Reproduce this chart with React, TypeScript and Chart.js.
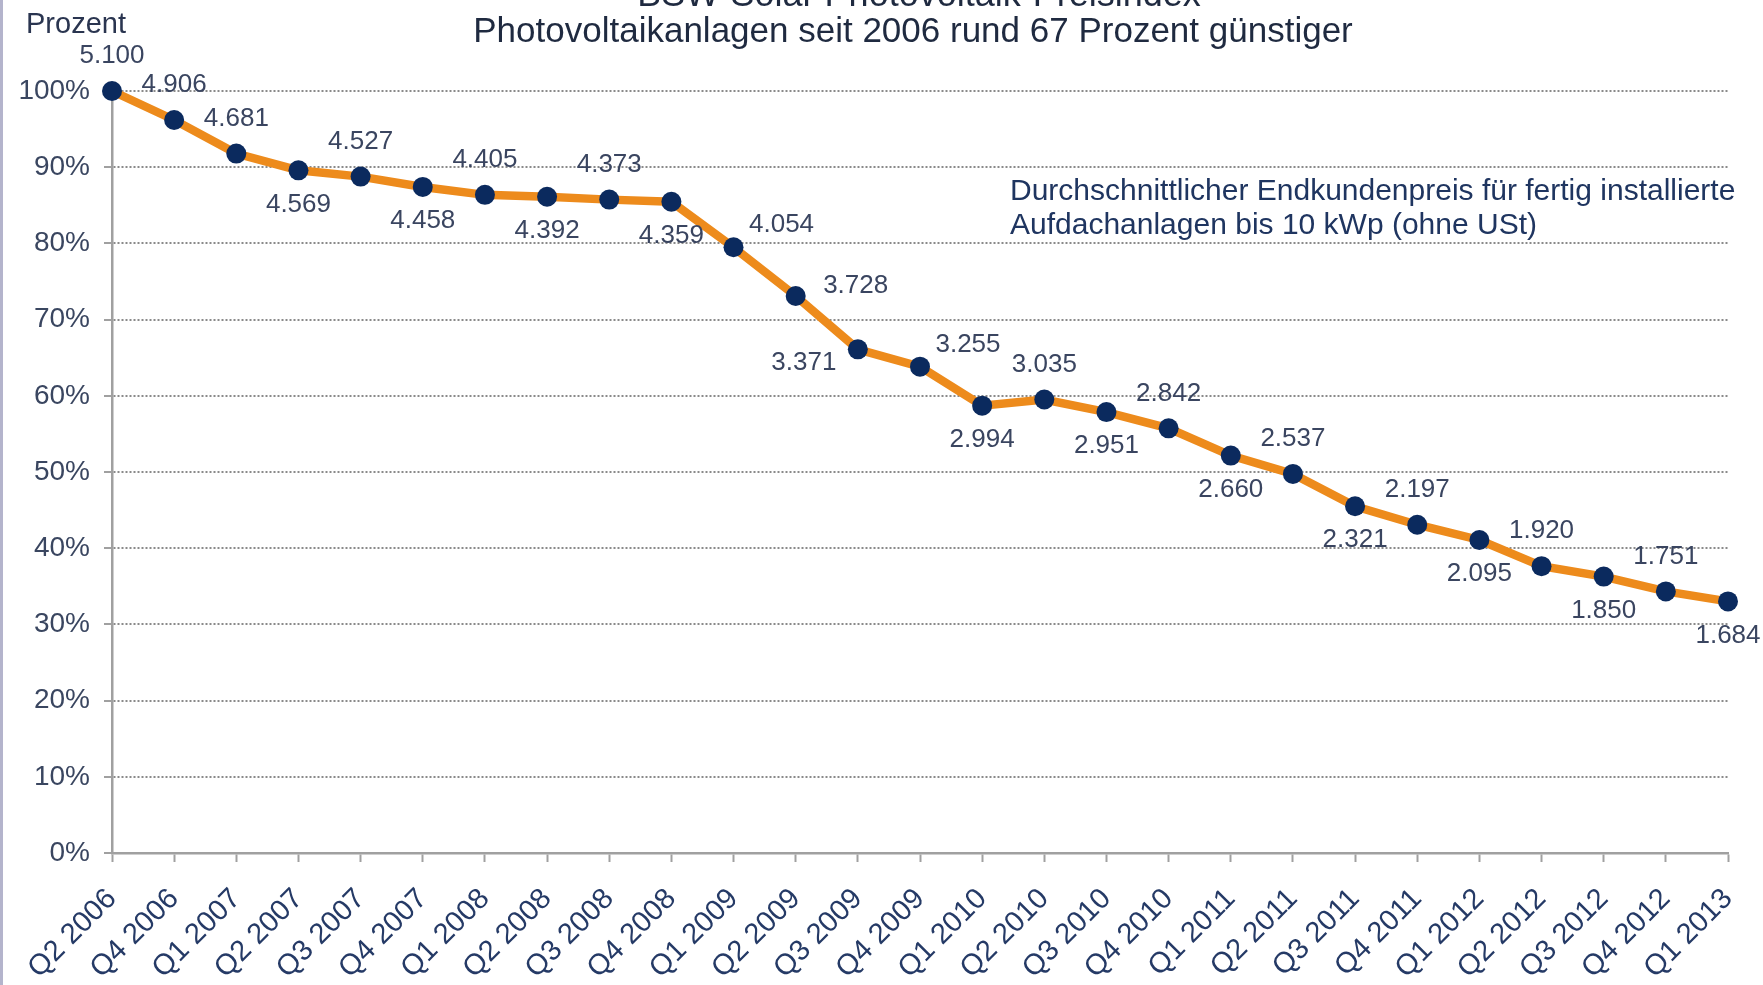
import React, { useEffect, useRef } from "react";
import { Chart, registerables } from "chart.js";

Chart.register(...registerables);

const categories = [
  "Q2 2006", "Q4 2006", "Q1 2007", "Q2 2007", "Q3 2007", "Q4 2007",
  "Q1 2008", "Q2 2008", "Q3 2008", "Q4 2008", "Q1 2009", "Q2 2009",
  "Q3 2009", "Q4 2009", "Q1 2010", "Q2 2010", "Q3 2010", "Q4 2010",
  "Q1 2011", "Q2 2011", "Q3 2011", "Q4 2011", "Q1 2012", "Q2 2012",
  "Q3 2012", "Q4 2012", "Q1 2013",
];

// Euro per kWp (as printed on the chart)
const prices = [
  5100, 4906, 4681, 4569, 4527, 4458, 4405, 4392, 4373, 4359, 4054, 3728,
  3371, 3255, 2994, 3035, 2951, 2842, 2660, 2537, 2321, 2197, 2095, 1920,
  1850, 1751, 1684,
];

const basePrice = 5100;

// where each value label sits relative to its point
const labelPlacement = [
  "above", "above", "above", "below", "above", "below", "above", "below",
  "above", "below", "right", "rightMid", "left", "right", "below", "above",
  "below", "above", "below", "above", "below", "above", "below", "above",
  "below", "above", "below",
];

const yTicks = [0, 10, 20, 30, 40, 50, 60, 70, 80, 90, 100];

const titleCut = "BSW-Solar Photovoltaik-Preisindex";
const subtitle = "Photovoltaikanlagen seit 2006 rund 67 Prozent günstiger";
const yUnit = "Prozent";
const noteLines = [
  "Durchschnittlicher Endkundenpreis für fertig installierte",
  "Aufdachanlagen bis 10 kWp (ohne USt)",
];

const FONT = "'Liberation Sans', Arial, sans-serif";

const offsets: Record<string, [number, number]> = {
  above: [0, -35],
  below: [0, 34],
  right: [48, -22],
  rightMid: [60, -10],
  left: [-54, 13],
};

const formatPrice = (v: number) => {
  const s = String(v);
  return s.slice(0, s.length - 3) + "." + s.slice(s.length - 3);
};

const textPlugin = {
  id: "textPlugin",
  afterDatasetsDraw(chart: any) {
    const ctx = chart.ctx;
    const meta = chart.getDatasetMeta(0);
    ctx.save();
    ctx.font = `26px ${FONT}`;
    ctx.fillStyle = "#3a4560";
    ctx.textAlign = "center";
    ctx.textBaseline = "middle";
    meta.data.forEach((pt: any, i: number) => {
      const [dx, dy] = offsets[labelPlacement[i]];
      ctx.fillText(formatPrice(prices[i]), pt.x + dx, pt.y + dy);
    });
    ctx.restore();
  },
  afterDraw(chart: any) {
    const ctx = chart.ctx;
    ctx.save();
    ctx.fillStyle = "#1f2a40";
    ctx.textAlign = "center";
    ctx.textBaseline = "alphabetic";
    ctx.font = `36px ${FONT}`;
    ctx.fillText(titleCut, 919, 6);
    ctx.font = `35px ${FONT}`;
    ctx.fillText(subtitle, 913, 42);
    ctx.font = `29px ${FONT}`;
    ctx.fillStyle = "#2a3550";
    ctx.textBaseline = "middle";
    ctx.fillText(yUnit, 76, 25);
    ctx.textAlign = "left";
    ctx.fillStyle = "#1f3560";
    ctx.font = `30px ${FONT}`;
    ctx.fillText(noteLines[0], 1010, 192);
    ctx.fillText(noteLines[1], 1010, 226);
    ctx.restore();
  },
};

export default function App() {
  const canvasRef = useRef<HTMLCanvasElement | null>(null);

  useEffect(() => {
    document.body.style.margin = "0";
    const canvas = canvasRef.current;
    if (!canvas) return;
    const chart = new Chart(canvas, {
      type: "line",
      data: {
        labels: categories,
        datasets: [
          {
            data: prices.map((p) => (p / basePrice) * 100),
            borderColor: "#ED8B1C",
            borderWidth: 8.5,
            pointBackgroundColor: "#0B2A5E",
            pointBorderColor: "#0B2A5E",
            pointRadius: 10,
            pointBorderWidth: 0,
            tension: 0,
            clip: false as any,
          },
        ],
      },
      options: {
        animation: false,
        responsive: true,
        maintainAspectRatio: false,
        layout: { padding: { top: 91, right: 35, left: 0, bottom: 0 } },
        plugins: {
          legend: { display: false },
          tooltip: { enabled: false },
          title: { display: false },
        },
        scales: {
          x: {
            type: "category",
            offset: false,
            afterFit: (s: any) => {
              s.height = 132;
              s.paddingLeft = 0;
              s.paddingRight = 0;
            },
            grid: {
              drawOnChartArea: false,
              drawTicks: true,
              tickLength: 9,
              tickColor: "#a0a0a0",
              tickWidth: 2,
            },
            border: { display: true, color: "#a0a0a0", width: 2.5 },
            ticks: {
              autoSkip: false,
              minRotation: 45,
              maxRotation: 45,
              padding: 20,
              color: "#253a66",
              font: { family: FONT, size: 29 },
            },
          },
          y: {
            min: 0,
            max: 100,
            afterFit: (s: any) => {
              s.width = 112;
            },
            afterBuildTicks: (s: any) => {
              s.ticks = yTicks.map((v) => ({ value: v }));
            },
            grid: {
              color: "#8a8a8a",
              lineWidth: 2,
              tickLength: 8,
              tickColor: "#a0a0a0",
              tickWidth: 2,
            },
            border: { display: true, color: "#a0a0a0", width: 2.5, dash: [2, 2] },
            ticks: {
              padding: 14,
              color: "#3a4660",
              font: { family: FONT, size: 28 },
              callback: (v: any) => `${v}%`,
            },
          },
        },
      },
      plugins: [textPlugin],
    });
    return () => chart.destroy();
  }, []);

  return (
    <div
      style={{
        position: "relative",
        width: 1763,
        height: 985,
        background: "#ffffff",
        overflow: "hidden",
      }}
    >
      <div
        style={{
          position: "absolute",
          left: 0,
          top: 0,
          width: 3,
          height: 985,
          background: "#b4b4cc",
        }}
      />
      <canvas ref={canvasRef} />
    </div>
  );
}
